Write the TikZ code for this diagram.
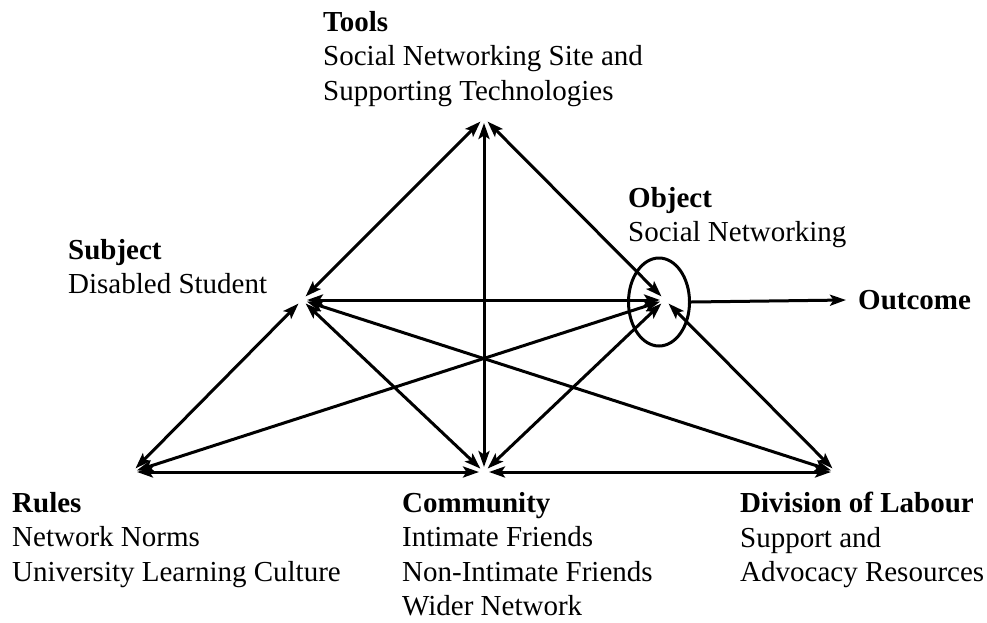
\documentclass[tikz,border=0pt]{standalone}
\usepackage{fontspec}
\setmainfont{Liberation Serif}
\usetikzlibrary{arrows.meta,positioning,shapes.geometric}

\begin{document}
\begin{tikzpicture}[x=1pt,y=-1pt,>={Stealth[length=16pt,width=11pt,inset=3.5pt]}, every node/.style={font=\fontsize{29}{34.5}\selectfont}]
\tikzstyle{lbl}=[anchor=north west, inner sep=0pt, align=left]
\tikzstyle{link}=[<->, line width=3pt, shorten <=5pt, shorten >=5pt]
\useasboundingbox (0,0) rectangle (987,622);
% corners of the activity triangle
\coordinate (tools) at (484,118); \coordinate (subject) at (302,300); \coordinate (object) at (665,300);
\coordinate (rules) at (132,472); \coordinate (community) at (484,472); \coordinate (division) at (836,472);
\node[lbl] (toolslbl) at (323,11) {\textbf{Tools}\\Social Networking Site and\\Supporting Technologies};
\node[lbl] (subjectlbl) at (68,239) {\textbf{Subject}\\Disabled Student};
\node[lbl] (objectlbl) at (628,187) {\textbf{Object}\\Social Networking};
\node[lbl] (ruleslbl) at (12,492) {\textbf{Rules}\\Network Norms\\University Learning Culture};
\node[lbl] (communitylbl) at (402,492) {\textbf{Community}\\Intimate Friends\\Non-Intimate Friends\\Wider Network};
\node[lbl] (divisionlbl) at (740,492) {\textbf{Division of Labour}\\Support and\\Advocacy Resources};
\node[draw, ellipse, line width=3pt, minimum width=61pt, minimum height=88pt, inner sep=0pt] (ring) at (659,302) {};
\node[anchor=west, inner sep=0pt] (outcome) at (858,300) {\textbf{Outcome}};
\draw[link] (tools)--(subject); \draw[link] (tools)--(community); \draw[link] (tools)--(object);
\draw[link] (subject)--(object); \draw[link] (subject)--(rules); \draw[link] (subject)--(community); \draw[link] (subject)--(division);
\draw[link] (object)--(rules); \draw[link] (object)--(community); \draw[link] (object)--(division);
\draw[link] (rules)--(community); \draw[link] (community)--(division);
\draw[->, line width=3pt] (ring.east) -- ([xshift=-12pt]outcome.west);
\end{tikzpicture}
\end{document}
